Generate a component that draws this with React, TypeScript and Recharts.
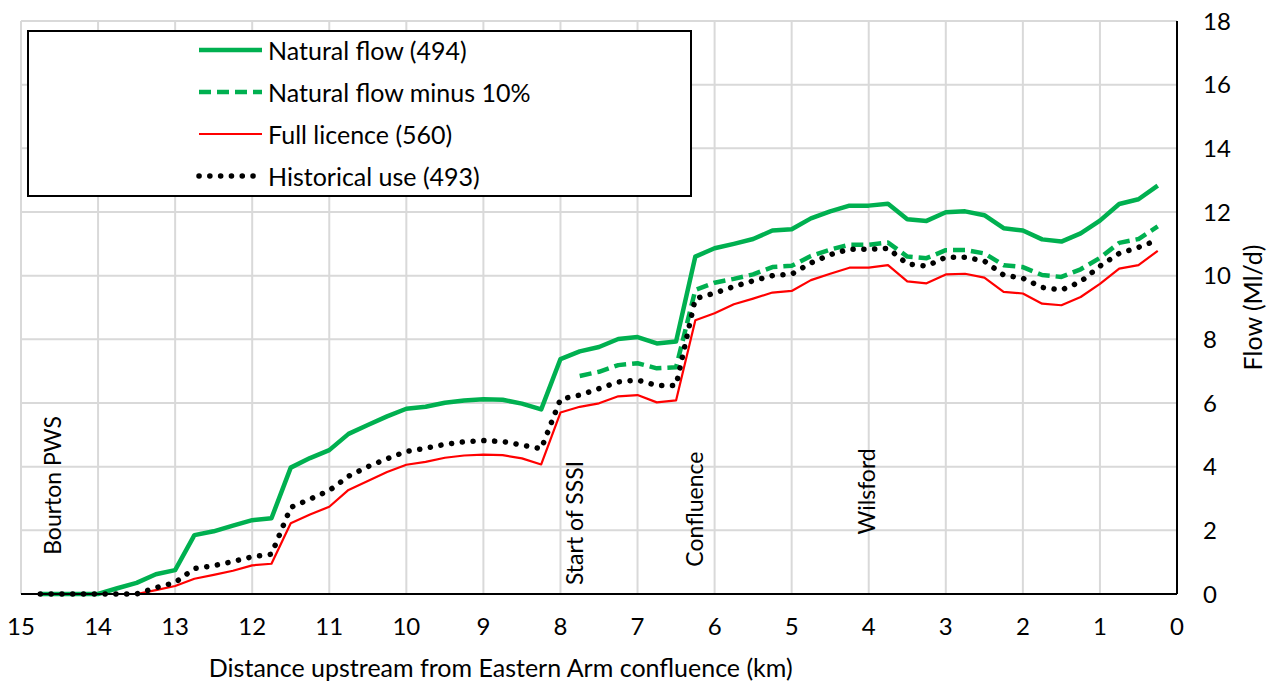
import React from 'react';
import { LineChart, Line, XAxis, YAxis, CartesianGrid, Legend, ReferenceDot } from 'recharts';

const km = [14.75, 14.5, 14.25, 14, 13.75, 13.5, 13.25, 13, 12.75, 12.5, 12.25, 12, 11.75, 11.5, 11.25, 11, 10.75, 10.5, 10.25, 10,
  9.75, 9.5, 9.25, 9, 8.75, 8.5, 8.25, 8, 7.75, 7.5, 7.25, 7, 6.75, 6.5, 6.25, 6, 5.75, 5.5, 5.25, 5,
  4.75, 4.5, 4.25, 4, 3.75, 3.5, 3.25, 3, 2.75, 2.5, 2.25, 2, 1.75, 1.5, 1.25, 1, 0.75, 0.5, 0.25];

const naturalFlow = [0, 0, 0, 0, 0.18, 0.35, 0.62, 0.75, 1.85, 1.97, 2.15, 2.32, 2.38, 3.97, 4.27, 4.52, 5.03, 5.31, 5.58, 5.82,
  5.88, 6.01, 6.08, 6.12, 6.1, 5.98, 5.8, 7.38, 7.62, 7.76, 8.01, 8.07, 7.87, 7.93, 10.6, 10.86, 11.0, 11.15, 11.42, 11.46,
  11.8, 12.02, 12.2, 12.2, 12.26, 11.77, 11.72, 11.99, 12.02, 11.9, 11.49, 11.42, 11.14, 11.07, 11.33, 11.73, 12.25, 12.4, 12.83];

const naturalMinus10 = [null, null, null, null, null, null, null, null, null, null, null, null, null, null, null, null, null, null, null, null,
  null, null, null, null, null, null, null, null, 6.85, 6.98, 7.19, 7.25, 7.09, 7.12, 9.55, 9.78, 9.9, 10.04, 10.27, 10.31,
  10.62, 10.82, 10.97, 10.97, 11.04, 10.6, 10.55, 10.8, 10.81, 10.7, 10.33, 10.27, 10.02, 9.96, 10.2, 10.56, 11.03, 11.15, 11.55];

const fullLicence = [0, 0, 0, 0, 0, 0, 0.12, 0.25, 0.48, 0.6, 0.73, 0.9, 0.95, 2.22, 2.5, 2.74, 3.27, 3.55, 3.83, 4.06,
  4.15, 4.28, 4.35, 4.38, 4.36, 4.26, 4.07, 5.7, 5.88, 5.99, 6.21, 6.25, 6.02, 6.08, 8.6, 8.82, 9.1, 9.28, 9.47, 9.52,
  9.86, 10.06, 10.25, 10.25, 10.33, 9.82, 9.76, 10.04, 10.06, 9.94, 9.49, 9.44, 9.12, 9.07, 9.33, 9.74, 10.22, 10.33, 10.78];

const historicalUse = [0, 0, 0, 0, 0, 0, 0.2, 0.36, 0.8, 0.89, 1.02, 1.17, 1.25, 2.72, 2.98, 3.25, 3.7, 4.0, 4.25, 4.48,
  4.58, 4.7, 4.78, 4.82, 4.79, 4.68, 4.56, 6.12, 6.25, 6.45, 6.66, 6.72, 6.55, 6.55, 9.28, 9.45, 9.66, 9.84, 10.0, 10.05,
  10.4, 10.66, 10.83, 10.83, 10.86, 10.37, 10.3, 10.58, 10.58, 10.46, 10.02, 9.92, 9.63, 9.55, 9.81, 10.3, 10.7, 10.89, 11.12];

const xTicks = [0, 1, 2, 3, 4, 5, 6, 7, 8, 9, 10, 11, 12, 13, 14, 15];
const yTicks = [0, 2, 4, 6, 8, 10, 12, 14, 16, 18];

const seriesNames = ['Natural flow (494)', 'Natural flow minus 10%', 'Full licence (560)', 'Historical use (493)'];

const annotationText = ['Bourton PWS', 'Start of SSSI', 'Confluence', 'Wilsford'];
const annotationKm = [14.6, 7.83, 6.27, 4.04];
const annotationFlow = [1.23, 0.28, 0.86, 1.87];

const X_TITLE = 'Distance upstream from Eastern Arm confluence (km)';
const Y_TITLE = 'Flow (Ml/d)';

const data = km.map((k, i) => ({
  km: k,
  natural: naturalFlow[i],
  minus10: naturalMinus10[i],
  licence: fullLicence[i],
  historical: historicalUse[i],
}));

const FONT = 'Lato, "Open Sans", sans-serif';
const GREEN = '#00B050';
const RED = '#FF0000';

const styles: Record<string, { stroke: string; width: number; dash?: string; cap?: 'round' | 'butt' }> = {
  natural: { stroke: GREEN, width: 4.5 },
  minus10: { stroke: GREEN, width: 4.5, dash: '12 6' },
  licence: { stroke: RED, width: 2.2 },
  historical: { stroke: '#000000', width: 5.5, dash: '0.1 10.7', cap: 'round' },
};

const keys = ['natural', 'minus10', 'licence', 'historical'];

const LegendBox = () => (
  <div style={{ width: 665, height: 167, border: '2px solid #000', boxSizing: 'border-box', background: '#fff' }}>
    <svg width={661} height={163} style={{ display: 'block' }}>
      {keys.map((k, i) => {
        const s = styles[k];
        const cy = 18 + i * 42;
        return (
          <g key={k}>
            <line x1={170} x2={233} y1={cy} y2={cy} stroke={s.stroke} strokeWidth={s.width}
              strokeDasharray={s.dash} strokeLinecap={s.cap || 'butt'} />
            <text x={239} y={cy} dominantBaseline="central" fontFamily={FONT} fontSize={25} fill="#000">
              {seriesNames[i]}
            </text>
          </g>
        );
      })}
    </svg>
  </div>
);

const XTitle = (props: any) => {
  const vb = props.viewBox || {};
  const cx = vb.x + vb.width * 0.415;
  return (
    <text x={cx} y={vb.y + 83} textAnchor="middle" fontFamily={FONT} fontSize={25} fill="#000">{X_TITLE}</text>
  );
};

const YTitle = (props: any) => {
  const vb = props.viewBox || {};
  const cx = vb.x + 75;
  const cy = vb.y + vb.height / 2;
  return (
    <text x={cx} y={cy} transform={`rotate(-90 ${cx} ${cy})`} textAnchor="middle" dominantBaseline="central"
      fontFamily={FONT} fontSize={25} fill="#000">{Y_TITLE}</text>
  );
};

const Annotation = (props: any) => {
  const vb = props.viewBox || {};
  const cx = vb.x;
  const cy = vb.y;
  return (
    <text x={cx} y={cy} transform={`rotate(-90 ${cx} ${cy})`} textAnchor="start" dominantBaseline="central"
      fontFamily={FONT} fontSize={23} fill="#000">{props.text}</text>
  );
};

export default function App() {
  return (
    <div style={{ position: 'absolute', left: 0, top: 0, width: 1277, height: 686, background: '#fff' }}>
      <LineChart width={1277} height={686} data={data} margin={{ top: 21, right: 20, bottom: 32, left: 21 }}>
        <CartesianGrid stroke="#D9D9D9" strokeWidth={2} />
        <XAxis dataKey="km" type="number" domain={[0, 15]} reversed ticks={xTicks} interval={0}
          height={60} tickLine={false} tickSize={0} tickMargin={24}
          axisLine={{ stroke: '#000', strokeWidth: 2 }}
          tick={{ fontSize: 24, fill: '#000', fontFamily: FONT }}
          label={<XTitle />} />
        <XAxis xAxisId="top" orientation="top" dataKey="km" type="number" domain={[0, 15]} reversed height={0}
          tick={false} tickLine={false} axisLine={{ stroke: '#000', strokeWidth: 2 }} />
        <YAxis orientation="right" domain={[0, 18]} ticks={yTicks} interval={0} width={80}
          tickLine={false} tickSize={0} tickMargin={26}
          axisLine={{ stroke: '#000', strokeWidth: 2 }}
          tick={{ fontSize: 24, fill: '#000', fontFamily: FONT, textAnchor: 'start' }}
          label={<YTitle />} />
        <YAxis yAxisId="left" orientation="left" domain={[0, 18]} width={0} tick={false} tickLine={false}
          axisLine={{ stroke: '#000', strokeWidth: 2 }} />
        {keys.map((k, i) => (
          <Line key={k} dataKey={k} name={seriesNames[i]} type="linear" stroke={styles[k].stroke}
            strokeWidth={styles[k].width} strokeDasharray={styles[k].dash}
            strokeLinecap={styles[k].cap || 'butt'} strokeLinejoin="round"
            dot={false} activeDot={false} isAnimationActive={false} />
        ))}
        {annotationText.map((t, i) => (
          <ReferenceDot key={t} x={annotationKm[i]} y={annotationFlow[i]} r={0} fill="none" stroke="none"
            label={<Annotation text={t} />} />
        ))}
        <Legend layout="vertical" align="center" verticalAlign="middle"
          wrapperStyle={{ left: 27, top: 30, width: 665, height: 167 }}
          content={() => <LegendBox />} />
      </LineChart>
    </div>
  );
}
